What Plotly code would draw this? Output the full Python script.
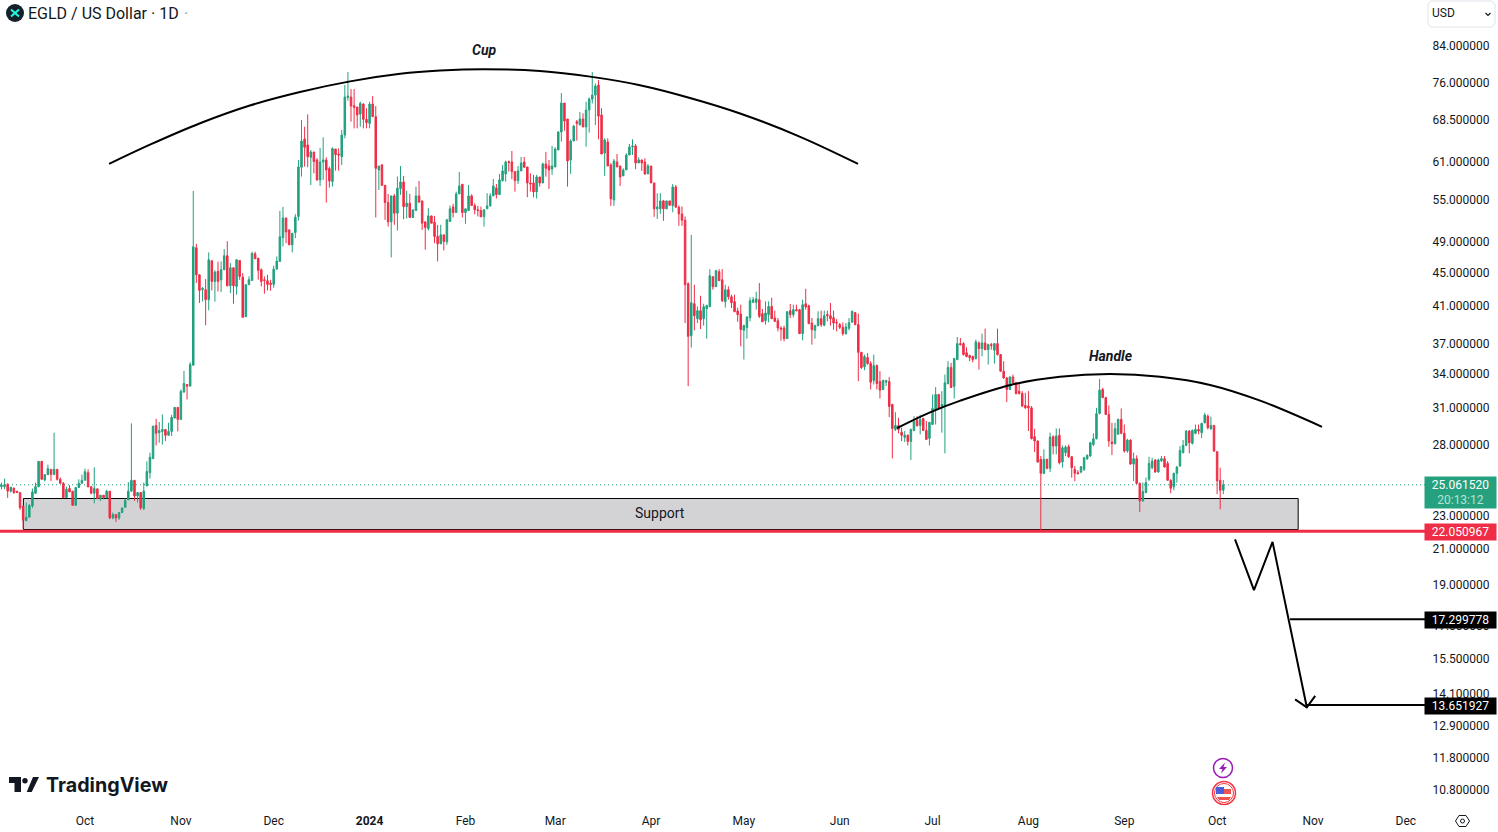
import math

import pandas as pd
import plotly.graph_objects as go

# daily candles, first candle is 2023-09-04
start_date = "2023-09-04"

opens = [
    24.93, 24.93, 25.09, 24.62, 24.84, 24.62, 24.53, 23.64, 22.69, 22.92,
    23.64, 24.48, 24.93, 26.73, 25.39, 25.77, 26.15, 25.77, 26.15, 25.44,
    25.16, 24.19, 24.80, 24.62, 23.68, 24.87, 25.16, 25.37, 25.91, 24.93,
    24.48, 24.78, 24.12, 24.35, 24.17, 24.62, 22.87, 23.08, 22.87, 23.21,
    23.55, 24.04, 24.62, 25.37, 24.30, 24.53, 23.47, 24.98, 25.91, 26.93,
    29.51, 28.93, 29.03, 29.19, 28.72, 29.03, 30.12, 31.02, 30.01, 32.35,
    33.04, 32.89, 34.84, 48.16, 44.71, 42.90, 42.90, 41.74, 46.47, 43.90,
    45.13, 44.10, 45.33, 47.12, 43.38, 45.58, 43.30, 46.51, 44.42, 39.83,
    43.50, 44.02, 47.37, 46.81, 45.33, 44.10, 43.98, 43.70, 43.54, 45.41,
    46.38, 49.50, 52.30, 50.60, 48.56, 50.23, 52.50, 60.13, 65.01, 63.95,
    61.81, 62.72, 61.36, 58.07, 61.02, 61.36, 59.91, 57.80, 63.24, 62.37,
    61.92, 65.73, 72.90, 72.97, 71.26, 71.00, 69.64, 71.58, 68.63, 67.87,
    71.58, 69.13, 59.69, 60.52, 57.22, 54.56, 51.73, 55.57, 52.98, 56.69,
    57.75, 53.96, 54.46, 52.36, 53.37, 55.57, 54.81, 51.73, 50.79, 52.59,
    51.68, 49.68, 48.69, 49.91, 48.96, 51.78, 53.91, 53.08, 55.87, 57.38,
    53.08, 53.37, 55.57, 54.11, 53.47, 53.37, 52.50, 53.62, 54.06, 55.57,
    56.80, 55.77, 57.96, 59.04, 61.08, 61.02, 59.42, 57.96, 59.53, 61.02,
    60.18, 57.59, 57.59, 56.18, 58.55, 57.59, 60.68, 60.35, 59.85, 60.18,
    63.07, 66.27, 71.78, 68.69, 61.36, 64.65, 68.19, 67.56, 68.69, 67.19,
    70.41, 72.57, 73.37, 75.43, 69.45, 62.55, 64.47, 60.52, 54.96, 61.02,
    60.35, 58.72, 59.69, 62.20, 63.59, 63.77, 60.85, 61.36, 61.02, 59.04,
    60.35, 57.59, 53.62, 53.62, 54.81, 53.62, 54.81, 54.11, 56.96, 53.86,
    52.88, 51.97, 43.62, 37.80, 41.28, 39.61, 40.50, 39.61, 40.72, 40.94,
    44.47, 43.26, 45.09, 44.10, 41.51, 42.90, 42.08, 41.51, 40.46, 40.13,
    38.36, 38.65, 39.72, 41.43, 41.43, 41.74, 40.17, 39.39, 40.06, 40.98,
    39.69, 39.39, 38.61, 38.61, 37.49, 40.50, 40.06, 40.61, 40.61, 38.01,
    41.28, 41.06, 39.14, 38.36, 38.86, 39.61, 38.90, 40.06, 39.94, 39.72,
    39.21, 38.97, 38.68, 38.01, 38.58, 39.25, 40.28, 38.97, 36.11, 34.69,
    35.58, 35.00, 33.40, 34.81, 33.31, 32.59, 33.25, 33.31, 31.27, 29.19,
    29.51, 28.96, 28.56, 28.72, 28.24, 29.11, 29.93, 29.51, 30.09, 29.11,
    28.48, 29.59, 30.84, 32.14, 31.13, 31.10, 33.13, 34.62, 32.86, 35.39,
    36.98, 36.98, 36.07, 35.78, 35.68, 35.49, 37.05, 36.47, 37.05, 36.37,
    36.88, 36.31, 36.98, 35.88, 34.27, 33.64, 32.59, 33.73, 33.19, 32.44,
    32.23, 31.18, 31.13, 30.98, 28.61, 28.27, 26.88, 25.86, 26.88, 26.22,
    28.61, 27.88, 28.72, 26.68, 27.38, 27.83, 27.07, 26.15, 25.91, 25.96,
    26.15, 26.93, 27.13, 28.00, 28.45, 30.51, 32.59, 31.87, 30.42, 28.19,
    28.07, 28.80, 30.01, 28.88, 27.50, 28.35, 26.53, 26.93, 25.16, 23.97,
    24.53, 25.44, 26.27, 26.83, 25.96, 26.78, 26.93, 26.58, 25.37, 24.91,
    25.86, 26.39, 27.38, 27.93, 29.06, 28.09, 28.88, 29.19, 28.93, 29.73,
    30.28, 29.25, 29.51, 27.45, 25.37, 24.69,
]

highs = [
    25.21, 25.49, 25.16, 24.89, 24.84, 24.62, 24.53, 23.64, 23.86, 23.75,
    24.80, 25.21, 26.73, 26.73, 25.77, 26.49, 26.15, 28.93, 26.15, 25.58,
    25.25, 24.93, 25.03, 24.62, 24.87, 25.44, 25.77, 26.20, 26.15, 24.93,
    26.29, 24.78, 24.35, 24.35, 24.71, 24.62, 23.21, 23.08, 23.21, 23.51,
    24.12, 25.25, 29.68, 25.37, 24.53, 24.53, 25.21, 26.73, 27.38, 29.46,
    30.06, 29.79, 30.42, 29.19, 29.73, 30.39, 31.02, 31.02, 32.59, 34.30,
    33.04, 35.13, 56.34, 48.69, 44.71, 43.22, 44.18, 47.55, 46.47, 45.25,
    46.34, 46.38, 47.99, 49.05, 46.17, 45.58, 46.60, 46.51, 44.92, 43.50,
    44.51, 47.64, 47.64, 46.81, 45.50, 44.51, 44.71, 44.10, 45.83, 47.03,
    53.32, 53.91, 52.30, 50.60, 50.14, 52.83, 61.36, 68.50, 67.25, 69.58,
    63.07, 62.72, 61.64, 63.42, 65.31, 61.81, 60.24, 63.53, 63.24, 63.36,
    66.64, 75.43, 78.17, 74.60, 74.60, 71.00, 72.04, 71.71, 70.74, 72.04,
    73.17, 71.19, 60.35, 60.68, 57.22, 55.87, 55.57, 55.87, 58.61, 60.35,
    58.72, 56.38, 55.87, 53.47, 57.01, 57.91, 54.81, 51.73, 53.72, 52.59,
    52.59, 51.31, 51.31, 49.91, 52.16, 54.11, 54.36, 56.23, 59.36, 57.38,
    53.62, 57.27, 55.82, 54.46, 54.06, 53.96, 53.57, 55.98, 55.98, 58.23,
    57.43, 59.04, 60.52, 61.25, 61.25, 62.89, 59.42, 60.35, 61.87, 61.87,
    60.18, 59.15, 58.88, 58.88, 58.55, 60.91, 62.72, 61.36, 63.77, 63.53,
    66.45, 73.78, 71.78, 68.69, 64.95, 67.56, 68.50, 70.02, 69.77, 72.04,
    72.90, 78.17, 75.77, 76.47, 70.74, 65.13, 65.13, 60.80, 61.53, 62.37,
    60.35, 59.96, 62.49, 64.12, 64.95, 64.12, 61.81, 61.36, 61.64, 60.68,
    60.35, 57.59, 55.98, 55.98, 54.96, 54.81, 54.81, 57.43, 57.27, 54.11,
    53.96, 52.50, 43.78, 49.91, 43.50, 40.98, 42.20, 41.28, 41.17, 45.41,
    44.51, 45.33, 45.41, 45.41, 43.50, 43.30, 42.32, 42.32, 40.83, 41.17,
    38.97, 39.87, 42.01, 42.05, 42.67, 43.70, 40.68, 41.55, 41.55, 41.97,
    40.50, 39.69, 38.79, 38.86, 40.39, 41.25, 41.17, 41.17, 40.68, 41.74,
    43.02, 41.17, 39.69, 38.97, 40.43, 40.50, 40.50, 40.50, 41.36, 40.50,
    39.57, 39.14, 39.21, 39.14, 39.69, 40.50, 40.35, 40.17, 36.11, 35.88,
    36.04, 35.23, 35.88, 34.91, 34.27, 33.49, 33.46, 33.73, 31.33, 30.61,
    30.14, 29.33, 29.06, 28.80, 29.25, 30.28, 30.28, 30.39, 30.14, 29.87,
    29.81, 32.14, 32.80, 32.20, 32.44, 33.95, 35.23, 35.07, 35.55, 37.66,
    37.56, 37.12, 36.61, 35.88, 35.78, 37.39, 37.22, 38.01, 38.54, 36.98,
    37.05, 37.05, 38.54, 35.94, 35.23, 33.73, 33.79, 33.95, 33.25, 33.19,
    32.44, 32.29, 32.44, 31.13, 29.25, 28.32, 27.13, 27.63, 26.93, 28.93,
    28.72, 29.27, 29.27, 27.93, 27.93, 28.00, 27.13, 26.39, 26.10, 26.39,
    27.07, 27.25, 28.22, 28.88, 30.98, 33.55, 32.74, 31.93, 31.18, 29.73,
    29.73, 30.06, 30.93, 29.59, 28.45, 28.40, 27.38, 27.18, 25.21, 25.21,
    25.56, 27.07, 27.00, 26.88, 26.93, 27.13, 27.13, 26.75, 25.44, 25.91,
    26.39, 27.88, 28.35, 29.14, 29.14, 29.19, 29.59, 29.59, 29.73, 30.56,
    30.42, 30.23, 29.57, 27.50, 26.27, 25.39,
]

lows = [
    24.75, 24.75, 24.17, 24.53, 24.44, 24.53, 23.38, 22.21, 22.69, 22.92,
    23.51, 24.48, 24.89, 25.44, 25.30, 25.77, 25.32, 25.77, 25.35, 25.16,
    24.19, 24.19, 24.57, 23.64, 23.68, 24.87, 25.16, 25.37, 24.91, 24.42,
    23.81, 24.12, 23.97, 24.08, 24.17, 22.79, 22.79, 22.62, 22.75, 23.21,
    23.55, 24.04, 24.62, 23.97, 23.86, 23.38, 23.38, 24.98, 25.49, 26.93,
    27.93, 28.14, 28.00, 28.27, 28.72, 28.67, 30.12, 29.03, 30.01, 32.35,
    31.70, 32.89, 34.84, 43.70, 41.36, 41.55, 38.90, 40.54, 42.82, 41.51,
    42.70, 42.63, 45.33, 43.30, 42.51, 41.28, 42.32, 44.10, 39.76, 39.83,
    43.50, 44.02, 46.73, 44.10, 43.30, 42.44, 42.82, 42.78, 43.14, 45.41,
    46.38, 48.34, 48.78, 48.56, 47.55, 49.45, 51.92, 58.61, 60.24, 60.13,
    57.27, 59.15, 57.96, 57.12, 58.07, 54.56, 56.85, 57.01, 59.58, 59.58,
    60.52, 65.13, 72.24, 68.19, 66.94, 66.94, 67.25, 66.94, 66.94, 66.94,
    69.13, 52.36, 56.49, 57.12, 52.02, 51.07, 46.90, 51.31, 50.51, 55.72,
    52.11, 52.21, 52.36, 52.36, 53.37, 54.61, 50.60, 47.90, 50.51, 51.54,
    48.78, 46.38, 48.69, 47.81, 48.56, 51.78, 52.36, 53.08, 55.87, 52.36,
    51.45, 53.37, 54.11, 52.83, 52.50, 52.45, 51.07, 53.62, 53.96, 55.57,
    55.17, 55.77, 57.80, 57.80, 59.42, 58.18, 56.23, 57.43, 59.53, 60.13,
    55.37, 56.23, 55.37, 55.17, 57.01, 57.59, 58.61, 56.64, 58.88, 60.18,
    63.07, 64.53, 66.51, 57.01, 59.04, 64.65, 64.71, 67.56, 67.19, 63.65,
    66.15, 71.71, 67.56, 64.95, 62.37, 58.72, 60.35, 54.06, 54.06, 60.18,
    57.12, 58.72, 59.69, 62.20, 62.20, 59.80, 60.85, 59.53, 58.88, 59.04,
    57.59, 52.45, 52.16, 52.88, 51.88, 53.62, 54.16, 53.13, 53.86, 51.16,
    51.16, 39.14, 32.89, 36.58, 38.36, 39.14, 38.50, 38.86, 37.49, 40.94,
    42.90, 43.26, 43.98, 41.47, 40.83, 41.74, 40.80, 40.32, 39.28, 36.71,
    35.39, 37.49, 39.32, 41.43, 40.61, 39.69, 39.28, 38.97, 39.21, 39.61,
    39.32, 38.25, 37.28, 37.22, 37.49, 39.69, 39.76, 40.43, 38.01, 37.32,
    40.61, 39.07, 36.88, 37.49, 38.79, 38.72, 38.79, 39.32, 38.86, 38.43,
    38.25, 38.50, 37.80, 37.90, 38.36, 39.14, 38.90, 33.34, 34.49, 34.37,
    34.88, 32.59, 33.04, 32.59, 31.79, 32.53, 32.89, 30.20, 26.95, 29.06,
    28.88, 28.27, 28.19, 27.93, 26.83, 29.03, 29.41, 28.80, 29.06, 28.35,
    27.93, 29.59, 29.59, 30.84, 28.93, 27.33, 33.04, 32.71, 31.79, 35.33,
    36.78, 35.78, 35.62, 35.23, 35.13, 35.39, 34.43, 35.71, 36.31, 34.91,
    36.37, 35.00, 35.78, 34.21, 33.55, 31.47, 32.53, 33.13, 32.14, 32.14,
    31.07, 30.90, 29.06, 28.40, 27.43, 26.63, 22.05, 25.81, 26.15, 25.96,
    27.25, 27.25, 26.51, 26.27, 27.13, 27.00, 25.56, 25.30, 25.79, 25.86,
    26.03, 26.83, 27.07, 27.88, 28.40, 30.42, 31.81, 30.37, 27.83, 27.20,
    28.00, 28.80, 28.80, 27.38, 27.38, 26.49, 25.32, 25.09, 23.25, 23.93,
    24.48, 25.32, 26.15, 25.91, 25.91, 26.68, 26.27, 25.32, 24.48, 24.69,
    25.21, 26.34, 27.33, 27.88, 27.33, 28.00, 28.80, 28.80, 28.50, 29.68,
    29.19, 29.14, 27.43, 24.42, 23.42, 24.42,
]

closes = [
    25.03, 25.07, 24.62, 24.89, 24.53, 24.53, 23.53, 22.73, 22.92, 23.68,
    24.57, 24.93, 26.73, 25.44, 25.77, 26.20, 25.79, 26.15, 25.44, 25.16,
    24.19, 24.75, 24.57, 23.68, 24.87, 25.16, 25.37, 25.98, 24.91, 24.48,
    24.80, 24.12, 24.35, 24.19, 24.62, 22.87, 23.08, 22.87, 23.21, 23.51,
    24.00, 24.62, 25.37, 24.30, 24.53, 23.51, 24.62, 26.00, 27.03, 29.46,
    28.88, 29.09, 29.19, 28.72, 29.03, 30.17, 31.02, 30.01, 32.41, 33.13,
    32.89, 34.91, 48.29, 44.71, 42.82, 43.06, 41.74, 46.60, 43.90, 45.05,
    43.90, 45.33, 47.12, 43.38, 45.58, 43.38, 46.60, 44.51, 39.76, 43.50,
    44.10, 47.42, 46.73, 45.25, 43.90, 44.02, 43.54, 43.54, 45.41, 46.43,
    49.64, 52.30, 50.32, 48.56, 50.14, 52.40, 60.18, 64.65, 63.53, 61.92,
    62.72, 61.08, 58.07, 61.02, 61.36, 59.69, 57.91, 63.30, 62.26, 62.20,
    65.73, 72.97, 73.17, 71.19, 70.93, 69.45, 71.71, 68.63, 68.00, 71.58,
    69.13, 59.96, 60.35, 57.22, 54.56, 51.73, 55.57, 52.98, 56.75, 57.75,
    53.96, 54.46, 52.36, 53.47, 55.57, 54.61, 51.54, 50.93, 52.59, 51.54,
    49.68, 48.69, 49.91, 49.01, 52.02, 53.62, 53.08, 55.87, 57.12, 53.08,
    53.62, 55.57, 54.11, 53.47, 53.37, 52.45, 53.47, 54.06, 55.57, 57.12,
    55.77, 58.07, 59.53, 61.02, 60.91, 59.42, 57.96, 59.53, 60.85, 60.13,
    57.59, 57.43, 56.18, 58.55, 57.59, 60.68, 59.96, 59.69, 60.35, 63.24,
    66.27, 71.78, 68.31, 61.19, 64.65, 67.37, 67.87, 68.69, 67.19, 70.41,
    72.57, 73.37, 75.22, 69.25, 62.37, 64.83, 60.35, 55.11, 61.19, 60.18,
    58.55, 59.69, 62.20, 63.59, 63.77, 60.85, 61.36, 60.85, 59.04, 60.35,
    57.59, 53.62, 53.91, 54.81, 53.62, 54.81, 54.16, 56.96, 53.86, 52.88,
    51.97, 43.50, 37.73, 41.40, 39.94, 40.50, 39.50, 40.94, 41.06, 44.59,
    43.26, 45.21, 43.98, 41.62, 42.90, 42.08, 41.40, 40.39, 40.06, 38.43,
    38.86, 39.79, 41.62, 41.74, 41.85, 39.87, 39.28, 40.24, 40.98, 39.61,
    39.32, 38.61, 38.50, 37.49, 40.39, 40.06, 40.61, 40.50, 38.01, 41.17,
    40.91, 39.07, 38.43, 38.86, 39.61, 38.97, 39.94, 39.94, 39.61, 39.14,
    39.14, 38.68, 38.01, 38.72, 39.18, 40.43, 38.97, 36.11, 34.62, 35.68,
    35.00, 33.25, 34.81, 33.13, 32.53, 33.40, 33.40, 31.10, 29.27, 29.51,
    29.19, 28.72, 28.72, 28.24, 29.19, 29.84, 29.51, 30.01, 29.11, 28.40,
    29.76, 30.93, 32.14, 30.93, 31.27, 33.19, 34.62, 32.77, 35.49, 36.98,
    36.88, 35.88, 35.68, 35.58, 35.39, 37.15, 36.47, 37.05, 36.37, 36.88,
    36.78, 36.98, 35.88, 34.27, 33.64, 32.59, 33.73, 33.19, 32.23, 32.23,
    31.13, 30.98, 30.98, 28.45, 28.27, 26.68, 25.86, 26.88, 26.22, 28.58,
    27.88, 28.67, 26.63, 27.75, 27.80, 27.07, 26.27, 25.86, 25.84, 26.34,
    27.00, 27.18, 28.14, 28.45, 30.48, 32.53, 31.87, 30.42, 28.27, 28.07,
    29.25, 30.01, 28.88, 27.50, 28.35, 26.53, 26.93, 25.16, 23.97, 24.60,
    25.21, 26.58, 26.75, 25.96, 26.83, 26.93, 26.32, 25.37, 24.82, 25.86,
    26.32, 27.55, 27.93, 29.06, 28.14, 29.11, 29.19, 29.06, 29.68, 30.37,
    29.33, 29.51, 27.50, 25.33, 24.69, 25.06,
]

# drawn trend lines
cup_dates = ["2023-10-08 19:00", "2023-10-22 00:00", "2023-11-07 05:00", "2023-11-23 07:00", "2023-12-09 12:00",
             "2023-12-25 17:00", "2024-01-10 22:00", "2024-01-23 19:00", "2024-02-06 17:00", "2024-02-25 02:00",
             "2024-03-12 07:00", "2024-03-28 10:00", "2024-04-13 14:00", "2024-04-29 19:00", "2024-05-19 05:00",
             "2024-06-06 22:00"]
cup_prices = [60.7, 64.0, 67.9, 71.3, 74.0, 76.2, 77.8, 78.5, 78.8, 78.4, 77.2, 75.4, 72.8, 69.75, 65.4, 60.7]

handle_dates = ["2024-06-19 12:00", "2024-06-30 05:00", "2024-07-10 00:00", "2024-07-26 05:00", "2024-08-11 05:00",
                "2024-08-27 10:00", "2024-09-12 14:00", "2024-09-28 17:00", "2024-10-14 22:00", "2024-11-03 22:00"]
handle_prices = [29.3, 30.6, 31.6, 33.0, 33.75, 34.0, 33.75, 33.0, 31.6, 29.4]

path_dates = ["2024-10-06 19:00", "2024-10-12 22:00", "2024-10-18 22:00", "2024-10-30 00:00"]
path_prices = [21.56, 18.74, 21.41, 13.57]
head_dates = ["2024-10-26 05:00", "2024-10-30 00:00", "2024-11-01 17:00"]
head_prices = [13.87, 13.57, 14.0]

last_price = 25.06152
support_price = 22.050967
target_1 = 17.299778
target_2 = 13.651927
support_top = 24.13
support_bottom = 22.15

# the 25 label sits under the green price tag, so it is not listed
price_ticks = [84, 76, 68.5, 61, 55, 49, 45, 41, 37, 34, 31, 28, 23, 21, 19, 17, 15.5, 14.1, 12.9, 11.8, 10.8]
date_ticks = ["2023-10-01", "2023-11-01", "2023-12-01", "2024-01-01", "2024-02-01", "2024-03-01", "2024-04-01",
              "2024-05-01", "2024-06-01", "2024-07-01", "2024-08-01", "2024-09-01", "2024-10-01", "2024-11-01",
              "2024-12-01"]
date_labels = ["Oct", "Nov", "Dec", "<b>2024</b>", "Feb", "Mar", "Apr", "May", "Jun", "Jul", "Aug", "Sep", "Oct",
               "Nov", "Dec"]

UP = "#22A17F"
DOWN = "#EF2D46"
INK = "#131722"
FONT = "Roboto"
W, H = 1425, 808  # plot area inside the 1498x832 page
X_LEFT, X_RIGHT = "2023-09-03 12:30", "2024-12-07 05:00"
Y_TOP, Y_BOTTOM = 95.36, 10.28


def px(x):
    return x / W


def py(y):
    return 1 - y / H


def poly(points, close=True):
    """Path string in paper coordinates from page pixels"""
    d = "M" + " L".join(f"{px(x):.5f},{py(y):.5f}" for x, y in points)
    return d + (" Z" if close else "")


def paper_shape(**kw):
    return dict(xref="paper", yref="paper", layer="above", **kw)


def disc(cx, cy, r, fill="rgba(0,0,0,0)", line="rgba(0,0,0,0)", width=0):
    return paper_shape(type="circle", x0=px(cx - r), x1=px(cx + r), y0=py(cy + r), y1=py(cy - r),
                       fillcolor=fill, line=dict(color=line, width=width))


def fill_poly(points, fill):
    return paper_shape(type="path", path=poly(points), fillcolor=fill, line=dict(width=0))


def stroke(points, color, width=1.5, close=False):
    return paper_shape(type="path", path=poly(points, close), line=dict(color=color, width=width))


def label(x, y, text, size=12, color=INK, anchor="left", family=FONT):
    return dict(xref="paper", yref="paper", x=px(x), y=py(y), text=text, showarrow=False, xanchor=anchor,
                yanchor="middle", borderpad=0, font=dict(family=family, size=size, color=color))


def price_tag(price, text, color):
    return dict(xref="paper", yref="y", x=1.0, y=math.log10(price), text=text, showarrow=False, xanchor="left",
                yanchor="middle", width=71, height=16, align="center", bgcolor=color, borderpad=0,
                xshift=-1, yshift=-1, font=dict(family=FONT, size=12, color="white"))


dates = pd.date_range(start_date, periods=len(closes), freq="D")

fig = go.Figure()
fig.add_trace(go.Candlestick(
    x=dates, open=opens, high=highs, low=lows, close=closes,
    increasing=dict(line=dict(color=UP, width=1), fillcolor=UP),
    decreasing=dict(line=dict(color=DOWN, width=1), fillcolor=DOWN),
    whiskerwidth=0, hoverinfo="skip",
))

for xs, ys in [(cup_dates, cup_prices), (handle_dates, handle_prices), (path_dates, path_prices),
               (head_dates, head_prices)]:
    fig.add_trace(go.Scatter(x=xs, y=ys, mode="lines", hoverinfo="skip",
                             line=dict(color="black", width=2, shape="spline" if len(xs) > 4 else "linear",
                                       smoothing=1.0)))

# target levels run into the price axis
for start, level in [("2024-10-24 14:00", target_1), ("2024-10-30 00:00", target_2)]:
    fig.add_trace(go.Scatter(x=[start, X_RIGHT], y=[level, level], mode="lines", hoverinfo="skip",
                             line=dict(color="black", width=2)))

shapes = [
    # support zone, candles stay on top
    dict(type="rect", xref="x", yref="y", layer="below", x0="2023-09-11 02:00", x1="2024-10-27 05:00",
         y0=support_bottom, y1=support_top, fillcolor="#D3D3D6", line=dict(color="black", width=1)),
    dict(type="line", xref="paper", yref="y", layer="above", x0=0, x1=1, y0=support_price, y1=support_price,
         line=dict(color=DOWN, width=3)),
    dict(type="line", xref="paper", yref="y", layer="below", x0=0, x1=1, y0=last_price, y1=last_price,
         line=dict(color=UP, width=1, dash="1px,3px")),
    # symbol logo
    disc(15, 13, 9, fill="#15202B"),
    stroke([(11, 9.5), (19, 16.5)], "#23F7DD", 2),
    stroke([(19, 9.5), (11, 16.5)], "#23F7DD", 2),
    # currency box
    stroke([(1431, 1), (1492, 1), (1495, 4), (1495, 24), (1492, 27), (1431, 27), (1428, 24), (1428, 4)],
           "#E0E3EB", 1, close=True),
    stroke([(1485.5, 13), (1488, 15.5), (1490.5, 13)], INK, 1.2),
    # TradingView mark
    fill_poly([(9, 777), (21, 777), (21, 792), (14.5, 792), (14.5, 783), (9, 783)], "#131722"),
    disc(25, 780.7, 2.7, fill="#131722"),
    fill_poly([(31.7, 792), (26.7, 792), (33, 777), (39, 777)], "#131722"),
    # event markers
    disc(1223, 768, 9.5, fill="white", line="#9C1AB8", width=1.5),
    fill_poly([(1225, 762.5), (1219, 769), (1222.5, 769), (1221, 773.5), (1227, 767), (1223.5, 767)], "#9C1AB8"),
    disc(1224, 793, 11.5, fill="white", line="#F23645", width=1.5),
    disc(1224, 793, 9.5, fill="white", line="#F23645", width=1),
    fill_poly([(1216, 787), (1224, 787), (1224, 794), (1216, 794)], "#4A5FD9"),
    fill_poly([(1224, 789), (1231, 789), (1231, 794), (1224, 794)], "#EF5350"),
    fill_poly([(1217, 797), (1231, 797), (1229, 800), (1219, 800)], "#EF5350"),
    # settings button
    stroke([(1455.5, 821), (1459, 815.5), (1466, 815.5), (1469.5, 821), (1466, 826.5), (1459, 826.5)],
           "#131722", 1, close=True),
    disc(1462.5, 821, 2, line="#131722", width=1),
]

annotations = [
    label(27, 13, "EGLD / US Dollar · 1D", size=16),
    label(183, 13, "·", size=16, color="#9598A1"),
    label(1431, 13.5, "USD", size=12),
    label(45, 785, "<b>TradingView</b>", size=19.7, family="Inter"),
    dict(x="2024-02-06 20:00", y=math.log10(83.07), text="<b><i>Cup</i></b>", showarrow=False,
         font=dict(family=FONT, size=14, color=INK)),
    dict(x="2024-08-27 16:00", y=math.log10(35.7), text="<b><i>Handle</i></b>", showarrow=False,
         font=dict(family=FONT, size=14, color=INK)),
    dict(x="2024-04-04", y=math.log10(23.18), text="Support", showarrow=False,
         font=dict(family=FONT, size=14, color=INK)),
    dict(xref="paper", yref="paper", x=1.0, y=py(476), xanchor="left", yanchor="top", width=71, height=31,
         align="center", bgcolor="#26A17F", borderpad=0, showarrow=False, xshift=-1,
         text="25.061520<br><span style='color:#B5E3D6'>20:13:12</span>",
         font=dict(family=FONT, size=12, color="white")),
    price_tag(support_price, "22.050967", DOWN),
    price_tag(target_1, "17.299778", "black"),
    price_tag(target_2, "13.651927", "black"),
]

fig.update_layout(
    width=1498, height=832,
    margin=dict(l=0, r=1498 - W, t=0, b=832 - H),
    paper_bgcolor="white", plot_bgcolor="white",
    showlegend=False, hovermode=False,
    font=dict(family=FONT, size=12, color=INK),
    xaxis=dict(
        type="date", range=[X_LEFT, X_RIGHT], rangeslider=dict(visible=False),
        tickmode="array", tickvals=date_ticks, ticktext=date_labels,
        showgrid=False, zeroline=False, showline=False,
        ticks="outside", ticklen=2, tickcolor="rgba(0,0,0,0)", tickfont=dict(family=FONT, size=12, color=INK),
    ),
    yaxis=dict(
        type="log", side="right", range=[math.log10(Y_BOTTOM), math.log10(Y_TOP)],
        tickmode="array", tickvals=price_ticks, ticktext=[f"{v:.6f}" for v in price_ticks],
        showgrid=False, zeroline=False, showline=False,
        ticks="outside", ticklen=4, tickcolor="rgba(0,0,0,0)", tickfont=dict(family=FONT, size=12, color=INK),
    ),
    shapes=shapes,
    annotations=annotations,
)

fig.write_html("out.html", config=dict(displayModeBar=False),
               post_script="document.body.style.margin='0';document.body.style.overflow='hidden';")
